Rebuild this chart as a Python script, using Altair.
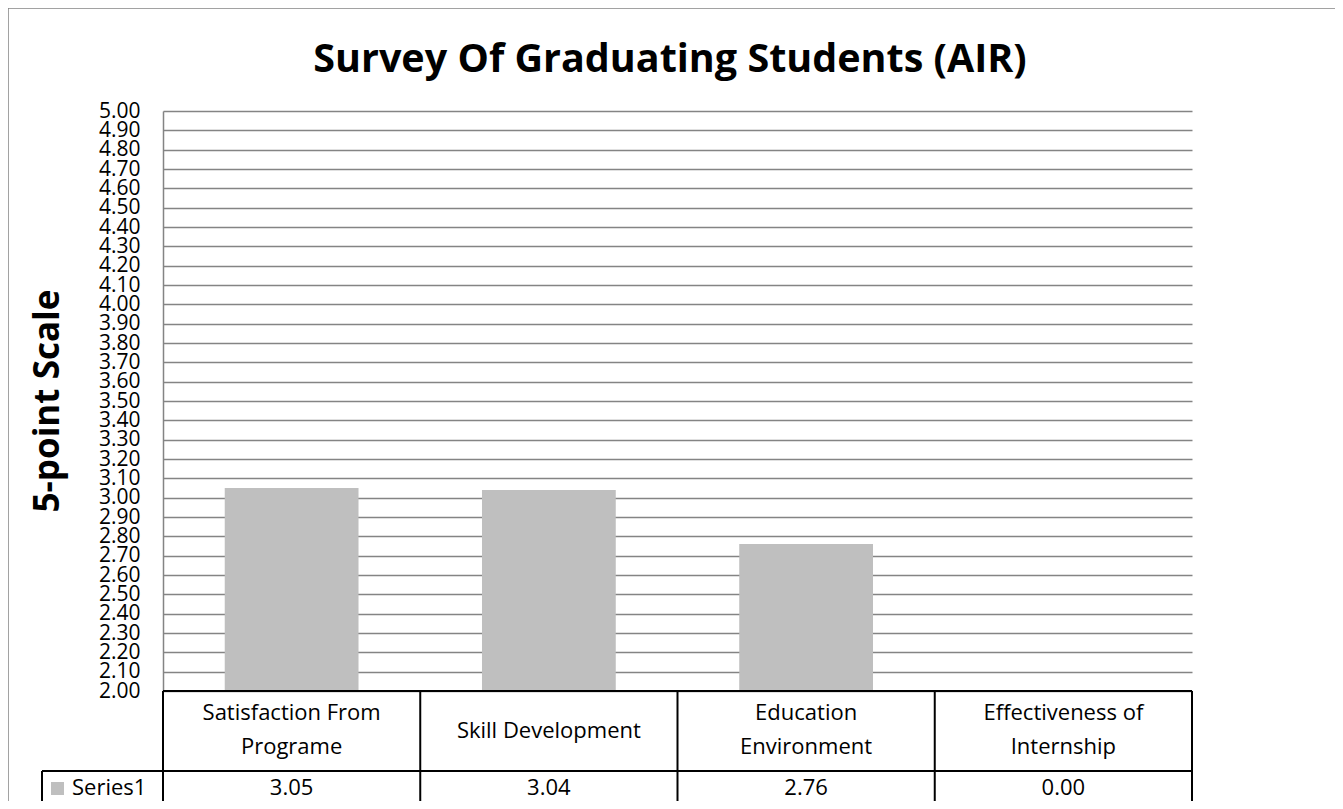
import altair as alt
import pandas as pd

# ---- data ----
categories = ["Satisfaction From Programe", "Skill Development",
              "Education Environment", "Effectiveness of Internship"]
header_labels = ["Satisfaction From\nPrograme", "Skill Development",
                 "Education\nEnvironment", "Effectiveness of\nInternship"]
values = [3.05, 3.04, 2.76, 0.00]
series_name = "Series1"
y_ticks = [round(2.0 + 0.1 * i, 2) for i in range(31)]
title_text = "Survey Of Graduating Students (AIR)"
y_title = "5-point Scale"

df = pd.DataFrame({"cat": categories, "label": header_labels, "value": values})
one = pd.DataFrame({"k": [0]})

W, H = 1029, 580
FONT = "Open Sans"
GRAY = "#848484"
BAR = "#BFBFBF"
TS = 22  # table font size

xscale = alt.Scale(domain=categories, paddingInner=0, paddingOuter=0)
xenc = alt.X("cat:N", scale=xscale, axis=None)

base = alt.Chart(df)

bars = base.mark_bar(color=BAR, width=alt.RelativeBandSize(0.52), clip=True).encode(
    x=xenc,
    y=alt.Y("value:Q",
            scale=alt.Scale(domain=[2, 5], nice=False, zero=False),
            axis=alt.Axis(values=y_ticks, format=".2f", title=None, ticks=False,
                          labelPadding=23, labelOverlap=False, labelFlush=False,
                          labelFont=FONT, labelFontSize=21, labelColor="black",
                          grid=True, gridColor=GRAY, gridWidth=1.5,
                          domainColor=GRAY, domainWidth=1.5)),
    y2=alt.datum(2.0),
)

# header row category labels (two-line and one-line labels placed separately)
header_multi = base.transform_filter(
    "indexof(datum.label, '\\n') >= 0"
).mark_text(font=FONT, fontSize=TS, color="black", lineBreak="\n",
            lineHeight=34, baseline="middle", align="center").encode(
    x=xenc, y=alt.value(602), text="label:N")
header_single = base.transform_filter(
    "indexof(datum.label, '\\n') < 0"
).mark_text(font=FONT, fontSize=TS, color="black",
            baseline="middle", align="center").encode(
    x=xenc, y=alt.value(620), text="label:N")

# value row
value_text = base.mark_text(font=FONT, fontSize=TS, color="black",
                            baseline="middle", align="center").encode(
    x=xenc, y=alt.value(677), text=alt.Text("value:Q", format=".2f"))

# table column lines (left edges of each band) + right edge
col_lines = base.mark_rule(color="black", strokeWidth=2).encode(
    x=alt.X("cat:N", scale=xscale, axis=None, bandPosition=0),
    y=alt.value(580), y2=alt.value(720))
right_line = alt.Chart(one).mark_rule(color="black", strokeWidth=2).encode(
    x=alt.value(W), y=alt.value(580), y2=alt.value(720))
top_line = alt.Chart(one).mark_rule(color="black", strokeWidth=2).encode(
    x=alt.value(0), x2=alt.value(W), y=alt.value(580))
mid_line = alt.Chart(one).mark_rule(color="black", strokeWidth=2).encode(
    x=alt.value(-121), x2=alt.value(W), y=alt.value(660))
legend_left = alt.Chart(one).mark_rule(color="black", strokeWidth=2).encode(
    x=alt.value(-121), y=alt.value(660), y2=alt.value(720))

legend_key = alt.Chart(one).mark_rect(color=BAR).encode(
    x=alt.value(-112), x2=alt.value(-99), y=alt.value(671), y2=alt.value(684))
legend_text = alt.Chart(one).mark_text(font=FONT, fontSize=TS, color="black",
                                       align="left", baseline="middle",
                                       text=series_name).encode(
    x=alt.value(-91), y=alt.value(677))

title = alt.Chart(one).mark_text(font=FONT, fontSize=39.5, fontWeight="bold", color="black",
                                 align="center", baseline="alphabetic",
                                 text=title_text).encode(
    x=alt.value(507), y=alt.value(-39))
ytitle = alt.Chart(one).mark_text(font=FONT, fontSize=35, fontWeight="bold", color="black",
                                  align="center", baseline="middle", angle=270,
                                  text=y_title).encode(
    x=alt.value(-115), y=alt.value(290))

border = alt.Chart(one).mark_rect(fillOpacity=0, stroke=GRAY, strokeWidth=1.5).encode(
    x=alt.value(-155), x2=alt.value(1174), y=alt.value(-103), y2=alt.value(720))

chart = alt.layer(
    border, bars, top_line, mid_line, col_lines, right_line, legend_left,
    header_multi, header_single, value_text, legend_key, legend_text, title, ytitle,
).properties(
    width=W, height=H,
    autosize=alt.AutoSizeParams(type="none"),
    padding={"left": 155, "top": 103, "right": 143, "bottom": 110},
).configure_view(strokeWidth=0)

chart.save("out.html", embed_options={"renderer": "svg", "actions": False})
